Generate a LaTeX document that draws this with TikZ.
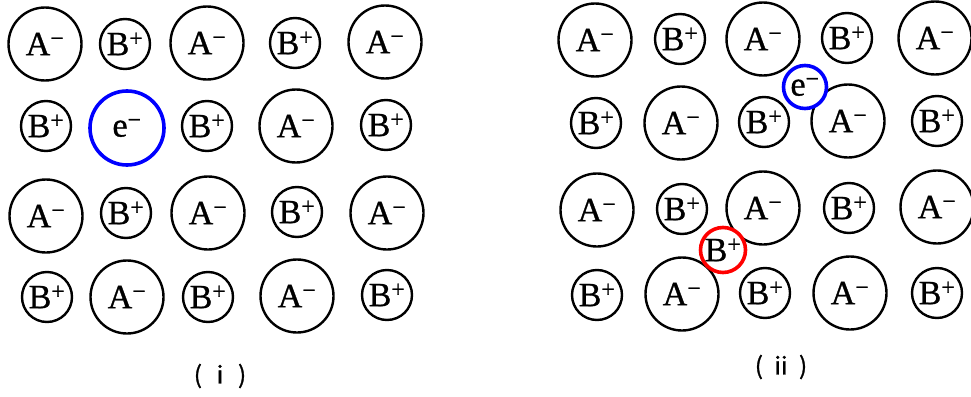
\documentclass[tikz,border=0pt]{standalone}
\usepackage{fontspec}
\setmainfont{Liberation Serif}
\newfontfamily\ionfont[FakeBold=0.9]{Liberation Serif}
\newfontfamily\cjk[FakeBold=1.2]{Noto Sans CJK SC}
\newcommand{\ionA}{A\textsuperscript{\char"2212}}
\newcommand{\ionB}{B\textsuperscript{+}}
\newcommand{\elec}{e\textsuperscript{\char"2212}}
\tikzset{
  ion/.style={circle, draw=black, line width=2.4pt, inner sep=0pt, font=\ionfont\fontsize{34}{36}\selectfont},
  anion/.style={ion, minimum size=73pt},
  cation/.style={ion, minimum size=50pt},
  electron/.style={ion, draw=blue, line width=3.6pt, fill=white},
  hole/.style={ion, draw=red, line width=3.6pt, fill=white},
  caption/.style={font=\cjk\fontsize{24}{26}\selectfont}
}
\begin{document}
\begin{tikzpicture}[x=1pt,y=-1pt]
\useasboundingbox (0,0) rectangle (971,396);
% ---------- panel (i) ----------
\node[anion]  (a11) at (45,44)  {\ionA};
\node[cation] (a12) at (125,44) {\ionB};
\node[anion]  (a13) at (207,43) {\ionA};
\node[cation] (a14) at (295,43) {\ionB};
\node[anion]  (a15) at (385,42) {\ionA};
\node[cation] (a21) at (46,126) {\ionB};
\node[electron, minimum size=74pt] (ae) at (127,128) {\elec};
\node[cation] (a23) at (207,126) {\ionB};
\node[anion]  (a24) at (296,126) {\ionA};
\node[cation] (a25) at (386,125) {\ionB};
\node[anion]  (a31) at (46,216) {\ionA};
\node[cation] (a32) at (126,213) {\ionB};
\node[anion]  (a33) at (208,213) {\ionA};
\node[cation] (a34) at (297,212) {\ionB};
\node[anion]  (a35) at (387,213) {\ionA};
\node[cation] (a41) at (47,297) {\ionB};
\node[anion]  (a42) at (127,297) {\ionA};
\node[cation] (a43) at (208,297) {\ionB};
\node[anion]  (a44) at (297,296) {\ionA};
\node[cation] (a45) at (387,295) {\ionB};
\node[caption] (capi) at (220,376) {(\hspace{6pt}ⅰ\hspace{6pt})};
% ---------- panel (ii) ----------
\node[anion]  (b11) at (595,40) {\ionA};
\node[cation] (b12) at (680,39) {\ionB};
\node[anion]  (b13) at (763,39) {\ionA};
\node[cation] (b14) at (847,38) {\ionB};
\node[anion]  (b15) at (935,38) {\ionA};
\node[cation] (b21) at (596,123) {\ionB};
\node[anion]  (b22) at (681,123) {\ionA};
\node[cation] (b23) at (764,122) {\ionB};
\node[anion]  (b24) at (848,121) {\ionA};
\node[cation] (b25) at (937,121) {\ionB};
\node[anion]  (b31) at (597,210) {\ionA};
\node[cation] (b32) at (682,209) {\ionB};
\node[anion]  (b33) at (763,208) {\ionA};
\node[cation] (b34) at (849,208) {\ionB};
\node[anion]  (b35) at (937,207) {\ionA};
\node[cation] (b41) at (597,295) {\ionB};
\node[anion]  (b42) at (682,294) {\ionA};
\node[cation] (b43) at (765,293) {\ionB};
\node[anion]  (b44) at (850,293) {\ionA};
\node[cation] (b45) at (937,293) {\ionB};
\node[electron, minimum size=43pt] (be) at (805,87) {\elec};
\node[hole, minimum size=45pt] (bh) at (723,250) {\ionB};
\node[caption] (capii) at (781,367) {(\hspace{6pt}ⅱ\hspace{6pt})};
\end{tikzpicture}
\end{document}
